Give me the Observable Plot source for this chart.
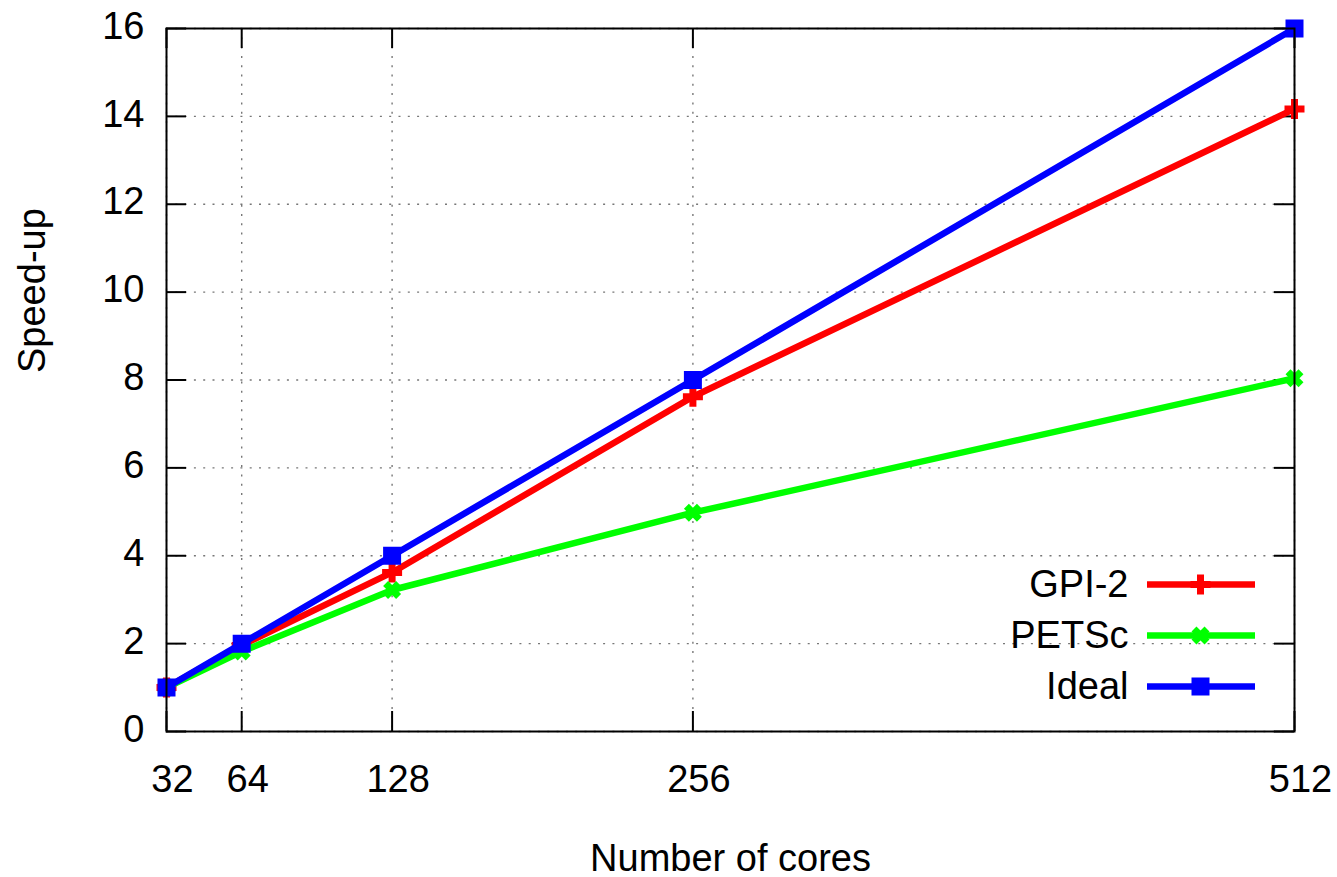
<!DOCTYPE html>
<html>
<head>
<meta charset="utf-8">
<script src="https://cdn.jsdelivr.net/npm/d3@7"></script>
<script src="https://cdn.jsdelivr.net/npm/@observablehq/plot@0.6"></script>
<style>
  html, body { margin: 0; padding: 0; background: #fff; }
  #chart { width: 1337px; height: 877px; }
</style>
</head>
<body>
<div id="chart"></div>
<script>
// ---- data ----
const cores = [32, 64, 128, 256, 512];
const gpi2  = [1, 1.96, 3.62, 7.62, 14.17];
const petsc = [1, 1.82, 3.22, 4.98, 8.04];
const ideal = [1, 2, 4, 8, 16];

const seriesNames = ["GPI-2", "PETSc", "Ideal"];
const seriesValues = [gpi2, petsc, ideal];
const seriesColors = ["#ff0000", "#00ff00", "#0000ff"];
const seriesSymbols = ["plus", "times", "square"];

const xTicks = [32, 64, 128, 256, 512];
const yTicks = [0, 2, 4, 6, 8, 10, 12, 14, 16];
const xDomain = [32, 512];
const yDomain = [0, 16];
const xTitle = "Number of cores";
const yTitle = "Speed-up";

// ---- layout ----
const W = 1337, H = 877;
const mL = 166, mR = 43, mT = 28, mB = 146;
const innerW = W - mL - mR, innerH = H - mT - mB;
const tickLen = 20;
const font = 38;
const lineW = 6.5;

// gnuplot-like point shapes (arm length = r)
const plusSym = {draw(ctx, size) { const a = Math.sqrt(size / Math.PI); ctx.moveTo(-a, 0); ctx.lineTo(a, 0); ctx.moveTo(0, -a); ctx.lineTo(0, a); }};
const timesSym = {draw(ctx, size) { const a = Math.sqrt(size / Math.PI); ctx.moveTo(-a, -a); ctx.lineTo(a, a); ctx.moveTo(-a, a); ctx.lineTo(a, -a); }};
const squareSym = {draw(ctx, size) { const a = Math.sqrt(size / Math.PI); ctx.rect(-a, -a, 2 * a, 2 * a); }};

const rows = cores.flatMap((c, i) =>
  seriesNames.map((s, k) => ({series: s, cores: c, value: seriesValues[k][i]})));

function markerOpts(k) {
  const sym = seriesSymbols[k];
  if (sym === "square") return {symbol: squareSym, r: 7.5, fill: seriesColors[k], stroke: seriesColors[k], strokeWidth: 3};
  if (sym === "plus") return {symbol: plusSym, r: 10, fill: "none", stroke: seriesColors[k], strokeWidth: 7};
  return {symbol: timesSym, r: 6.5, fill: "none", stroke: seriesColors[k], strokeWidth: 7};
}

const marks = [];

// grid
marks.push(Plot.ruleY(yTicks, {y: d => d, stroke: "#777", strokeWidth: 1.4, strokeDasharray: "2,7.3"}));
marks.push(Plot.ruleX(xTicks, {x: d => d, stroke: "#777", strokeWidth: 1.4, strokeDasharray: "2,7.3"}));

// inward ticks (left, right, bottom, top)
const tickStyle = {stroke: "#000", strokeWidth: 2};
marks.push(Plot.ruleY(yTicks, {y: d => d, insetRight: innerW - tickLen, ...tickStyle}));
marks.push(Plot.ruleY(yTicks, {y: d => d, insetLeft: innerW - tickLen, ...tickStyle}));
marks.push(Plot.ruleX(xTicks, {x: d => d, insetTop: innerH - tickLen, ...tickStyle}));
marks.push(Plot.ruleX(xTicks, {x: d => d, insetBottom: innerH - tickLen, ...tickStyle}));

// tick labels
marks.push(Plot.axisY({ticks: yTicks, tickSize: 0, tickPadding: 22, fontSize: font, dy: -2, label: null}));
marks.push(Plot.axisX({ticks: xTicks, tickSize: 0, tickPadding: 34, fontSize: font, dx: 6, label: null}));

// axis titles
marks.push(Plot.text([xTitle], {frameAnchor: "bottom", text: d => d, lineAnchor: "bottom", dy: 139, fontSize: font, fill: "#000"}));
marks.push(Plot.text([yTitle], {frameAnchor: "left", text: d => d, rotate: -90, lineAnchor: "bottom", dx: -122, dy: -7, fontSize: font, fill: "#000"}));

// series
seriesNames.forEach((s, k) => {
  const data = rows.filter(d => d.series === s);
  marks.push(Plot.line(data, {x: "cores", y: "value", stroke: seriesColors[k], strokeWidth: lineW, strokeLinejoin: "round"}));
  marks.push(Plot.dot(data, {x: "cores", y: "value", ...markerOpts(k)}));
});

// frame
marks.push(Plot.frame({stroke: "#000", strokeWidth: 2}));

// legend (inside plot, bottom-right)
const legendDy = [-147, -96, -45];
seriesNames.forEach((s, k) => {
  marks.push(Plot.text([s], {x: () => xDomain[1], y: () => yDomain[0], text: d => d, textAnchor: "end", lineAnchor: "middle", dx: -(W - mR - 1128), dy: legendDy[k], fontSize: font, fill: "#000"}));
  marks.push(Plot.ruleY([s], {y: () => yDomain[0], dy: legendDy[k], insetLeft: 1147 - mL, insetRight: W - mR - 1255, stroke: seriesColors[k], strokeWidth: lineW}));
  marks.push(Plot.dot([s], {x: () => xDomain[1], y: () => yDomain[0], dx: -94, dy: legendDy[k], ...markerOpts(k)}));
});

const chart = Plot.plot({
  width: W,
  height: H,
  marginLeft: mL,
  marginRight: mR,
  marginTop: mT,
  marginBottom: mB,
  x: {type: "linear", domain: xDomain},
  y: {type: "linear", domain: yDomain},
  style: {fontFamily: "'Liberation Sans', Arial, sans-serif", fontSize: "38px", background: "#fff", color: "#000", overflow: "visible"},
  marks
});
document.getElementById("chart").appendChild(chart);
</script>
</body>
</html>
